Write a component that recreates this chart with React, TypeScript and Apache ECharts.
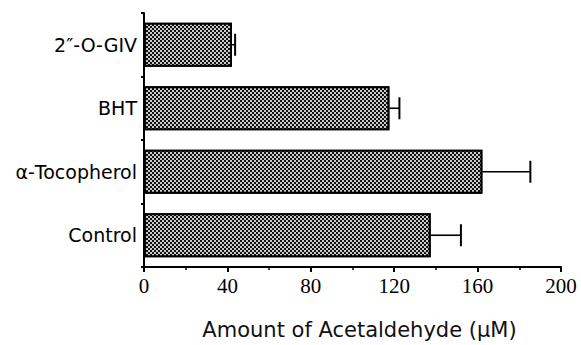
import React, { useEffect, useRef } from "react";
import * as echarts from "echarts";

const categories = ["Control", "α-Tocopherol", "BHT", "2″-O-GIV"];
const means = [137.5, 162.3, 117.7, 42.2];
const upper = [152.0, 185.3, 122.5, 43.7];
const xTicks = [0, 40, 80, 120, 160, 200];

export default function App() {
  const ref = useRef<HTMLDivElement>(null);
  useEffect(() => {
    if (!ref.current) return;
    const chart = echarts.init(ref.current, null, { renderer: "svg" });
    const errData = categories.map((_, i) => [i, means[i], upper[i]]);
    chart.setOption({
      animation: false,
      backgroundColor: "#fff",
      grid: { left: 144, right: 20, top: 13, bottom: 77, containLabel: false },
      xAxis: {
        type: "value",
        min: xTicks[0],
        max: xTicks[xTicks.length - 1],
        interval: 40,
        name: "Amount of Acetaldehyde (μM)",
        nameLocation: "middle",
        nameGap: 52,
        nameTextStyle: { fontFamily: "DejaVu Sans", fontSize: 21, color: "#111", padding: [0, 0, 0, 14] },
        axisLine: { show: true, lineStyle: { color: "#000", width: 2 } },
        axisTick: { show: true, length: 5, lineStyle: { color: "#000", width: 2 } },
        minorTick: { show: true, splitNumber: 2, length: 3, lineStyle: { color: "#000", width: 1.5 } },
        splitLine: { show: false },
        axisLabel: { fontFamily: "Liberation Serif", fontSize: 21, color: "#000", margin: 8 },
      },
      yAxis: {
        type: "category",
        data: categories,
        axisLine: { show: true, lineStyle: { color: "#000", width: 2 } },
        axisTick: { show: true, length: 3, lineStyle: { color: "#000", width: 2 } },
        axisLabel: { fontFamily: "DejaVu Sans", fontSize: 19, color: "#000", margin: 7 },
        splitLine: { show: false },
      },
      series: [
        {
          type: "bar",
          data: means,
          barWidth: 44,
          itemStyle: {
            color: "#111",
            borderColor: "#000",
            borderWidth: 2,
            decal: {
              symbol: "rect",
              symbolSize: 1,
              color: "rgba(255,255,255,0.78)",
              dashArrayX: [[2, 2], [0, 2, 2, 0]],
              dashArrayY: [2, 0],
            },
          },
          z: 2,
        },
        {
          type: "custom",
          data: errData,
          z: 3,
          renderItem: (params: any, api: any) => {
            const idx = api.value(0);
            const lo = api.coord([api.value(1), idx]);
            const hi = api.coord([api.value(2), idx]);
            const half = 11;
            return {
              type: "group",
              children: [
                {
                  type: "line",
                  shape: { x1: lo[0], y1: lo[1], x2: hi[0], y2: hi[1] },
                  style: { stroke: "#000", lineWidth: 1.6 },
                },
                {
                  type: "line",
                  shape: { x1: hi[0], y1: hi[1] - half, x2: hi[0], y2: hi[1] + half },
                  style: { stroke: "#000", lineWidth: 2 },
                },
              ],
            };
          },
        },
      ],
    });
    return () => chart.dispose();
  }, []);
  return <div ref={ref} style={{ width: 581, height: 345, position: "absolute", left: 0, top: 0 }} />;
}
